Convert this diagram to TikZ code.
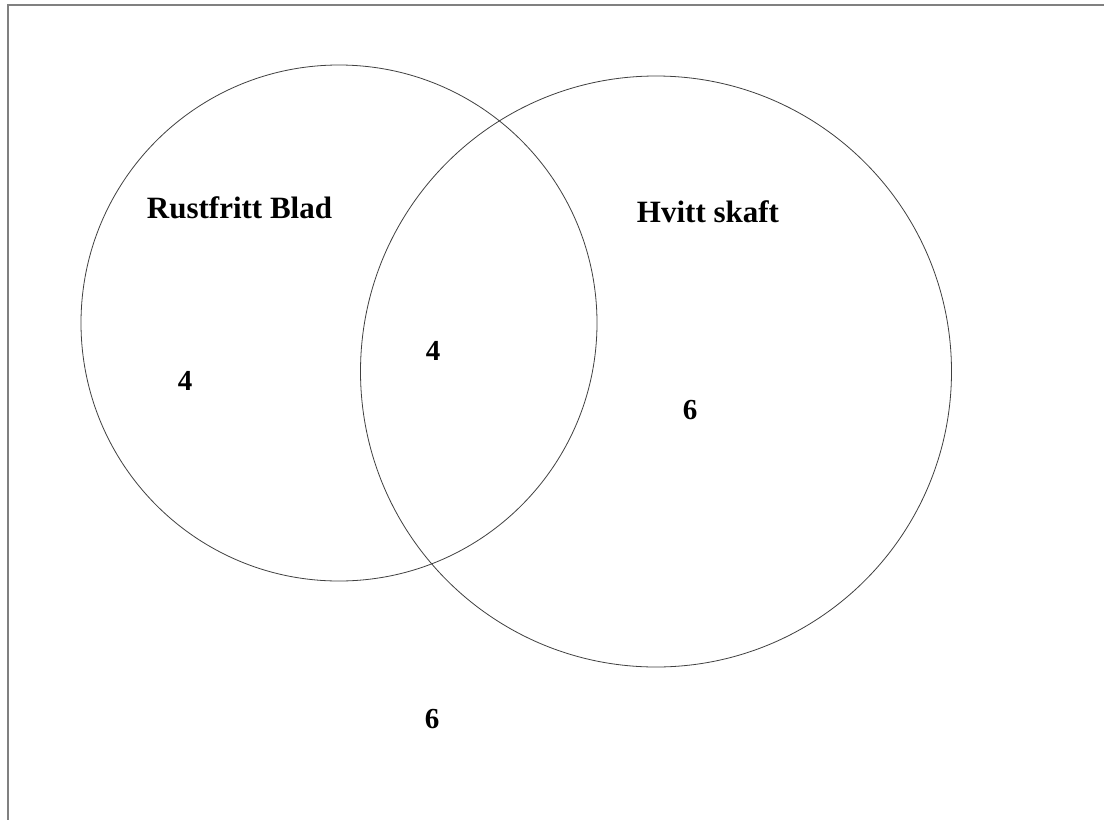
\documentclass[tikz,border=0pt]{standalone}
\usepackage{fontspec}
\setmainfont{Liberation Serif}
\begin{document}
\begin{tikzpicture}[x=1pt,y=-1pt,
  venn/.style={draw=black!75,line width=0.8pt},
  lbl/.style={font=\fontsize{31}{36}\selectfont\bfseries,inner sep=0pt,anchor=base},
  num/.style={font=\fontsize{29}{34}\selectfont\bfseries,inner sep=0pt,anchor=center},
  frameline/.style={draw=black!50,line width=1.6pt}]
\useasboundingbox (0,0) rectangle (1104,820);
\fill[white] (0,0) rectangle (1104,820);
\coordinate (tl) at (8,5);
\coordinate (tr) at (1104,5);
\coordinate (bl) at (8,820);
\draw[frameline] (tr) -- (tl) -- (bl);
\node[venn,circle,minimum size=516pt,inner sep=0pt] (A) at (339,323) {};
\node[venn,circle,minimum size=591pt,inner sep=0pt] (B) at (656,371.5) {};
\node[lbl] (la) at (239.5,218) {Rustfritt Blad};
\node[lbl] (lb) at (708,222) {Hvitt skaft};
\node[num] (n1) at (185,381) {4};
\node[num] (n2) at (433,351) {4};
\node[num] (n3) at (690,410) {6};
\node[num] (n4) at (432,719) {6};
\end{tikzpicture}
\end{document}
